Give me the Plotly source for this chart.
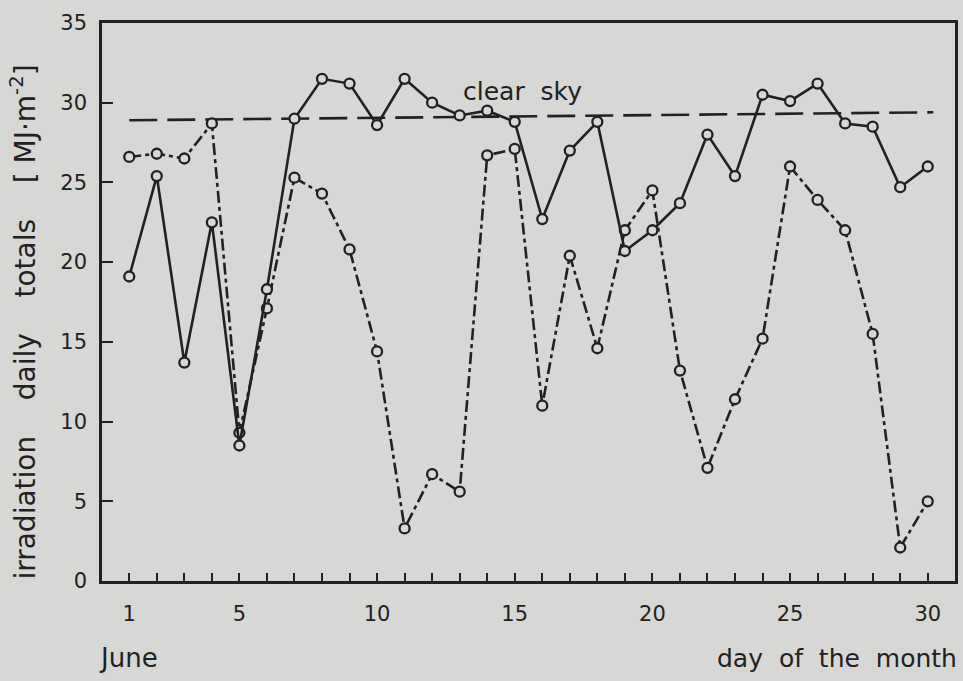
import plotly.graph_objects as go

days = list(range(1, 31))
solid_vals = [19.1, 25.4, 13.7, 22.5, 8.5, 18.3, 29.0, 31.5, 31.2, 28.6,
              31.5, 30.0, 29.2, 29.5, 28.8, 22.7, 27.0, 28.8, 20.7, 22.0,
              23.7, 28.0, 25.4, 30.5, 30.1, 31.2, 28.7, 28.5, 24.7, 26.0]
dashdot_vals = [26.6, 26.8, 26.5, 28.7, 9.3, 17.1, 25.3, 24.3, 20.8, 14.4,
                3.3, 6.7, 5.6, 26.7, 27.1, 11.0, 20.4, 14.6, 22.0, 24.5,
                13.2, 7.1, 11.4, 15.2, 26.0, 23.9, 22.0, 15.5, 2.1, 5.0]
clear_sky_days = [1, 30.2]
clear_sky_vals = [28.9, 29.4]
x_tick_vals = [1, 5, 10, 15, 20, 25, 30]
x_major_ticks = [10, 20, 30]
y_tick_vals = [0, 5, 10, 15, 20, 25, 30, 35]

BG = "#d7d7d5"
INK = "#222121"
FONT = "DejaVu Sans"

fig = go.Figure()
fig.add_trace(go.Scatter(x=clear_sky_days, y=clear_sky_vals, mode="lines",
                         line=dict(color=INK, width=2.6, dash="28px,10px"),
                         name="clear sky", showlegend=False))
fig.add_trace(go.Scatter(x=days, y=dashdot_vals, mode="lines+markers",
                         line=dict(color=INK, width=2.6, dash="12px,4px,4px,4px"),
                         marker=dict(symbol="circle", size=10, color=BG,
                                     line=dict(color=INK, width=2.3)),
                         name="dash-dot", showlegend=False))
fig.add_trace(go.Scatter(x=days, y=solid_vals, mode="lines+markers",
                         line=dict(color=INK, width=2.6),
                         marker=dict(symbol="circle", size=10, color=BG,
                                     line=dict(color=INK, width=2.3)),
                         name="solid", showlegend=False))

fig.update_layout(
    width=963, height=681,
    margin=dict(l=102, r=5, t=23, b=100),
    paper_bgcolor=BG, plot_bgcolor=BG,
    font=dict(family=FONT, color=INK, size=20),
    showlegend=False,
    xaxis=dict(range=[0.01, 30.99], tickvals=x_tick_vals,
               ticktext=[str(v) for v in x_tick_vals],
               ticks="inside", ticklen=8, tickwidth=2, tickcolor=INK,
               minor=dict(dtick=1, tick0=1, ticks="inside", ticklen=8,
                          tickwidth=2, tickcolor=INK),
               showline=True, linecolor=INK, linewidth=2.5, mirror=True,
               showgrid=False, zeroline=False,
               tickfont=dict(size=21, family=FONT, color=INK),
               ticklabelstandoff=12),
    xaxis2=dict(range=[0.01, 30.99], overlaying="x", anchor="y", side="bottom",
                tickvals=x_major_ticks, ticks="inside", ticklen=14, tickwidth=2,
                tickcolor=INK, showticklabels=False, showline=False,
                showgrid=False, zeroline=False),
    yaxis=dict(range=[0, 35], tickvals=y_tick_vals,
               ticks="inside", ticklen=11, tickwidth=2, tickcolor=INK,
               showline=True, linecolor=INK, linewidth=2.5, mirror=True,
               showgrid=False, zeroline=False,
               tickfont=dict(size=21, family=FONT, color=INK),
               ticklabelstandoff=8),
)

fig.add_annotation(text="clear  sky", x=15.3, y=30.7, xref="x", yref="y",
                   showarrow=False, font=dict(size=25, family=FONT, color=INK),
                   bgcolor="rgba(0,0,0,0)")
fig.add_annotation(text="irradiation    daily    totals    [ MJ·m<sup>-2</sup>]",
                   textangle=-90, xref="paper", yref="paper",
                   x=-0.092, y=0.464, xanchor="center", yanchor="middle",
                   showarrow=False, font=dict(size=28, family=FONT, color=INK))
fig.add_annotation(text="June", xref="paper", yref="paper",
                   x=-0.006, y=-0.138, xanchor="left", yanchor="middle",
                   showarrow=False, font=dict(size=26, family=FONT, color=INK))
fig.add_annotation(text="day  of  the  month", xref="paper", yref="paper",
                   x=1.005, y=-0.138, xanchor="right", yanchor="middle",
                   showarrow=False, font=dict(size=25, family=FONT, color=INK))

fig.write_html("out.html")
